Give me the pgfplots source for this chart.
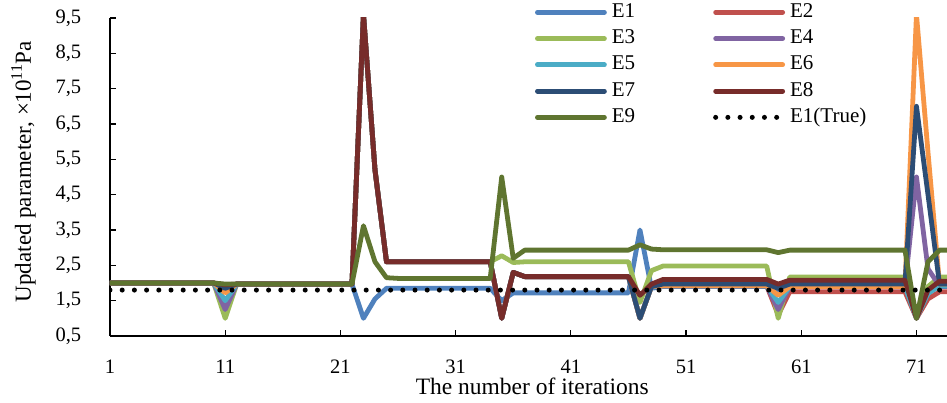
\documentclass[border=0pt]{standalone}
\usepackage{fontspec}
\setmainfont{Liberation Serif}
\usepackage{pgfplots}
\pgfplotsset{compat=1.18}
\definecolor{c1}{HTML}{4F81BD}
\definecolor{c2}{HTML}{C0504D}
\definecolor{c3}{HTML}{9BBB59}
\definecolor{c4}{HTML}{8064A2}
\definecolor{c5}{HTML}{4BACC6}
\definecolor{c6}{HTML}{F79646}
\definecolor{c7}{HTML}{2C4D75}
\definecolor{c8}{HTML}{772C2A}
\definecolor{c9}{HTML}{5F7530}
\begin{document}
\fontsize{20}{24}\selectfont
\begin{tikzpicture}
\begin{axis}[
  at={(0,0)}, anchor=south west,
  scale only axis, width=837pt, height=318pt,
  xmin=1, xmax=73.65, ymin=0.5, ymax=9.5,
  axis lines*=left,
  axis line style={line width=1.3pt},
  tick align=inside,
  major tick length=6pt,
  tick style={line width=1.3pt, black},
  xtick={1,11,...,71},
  ytick={0.5,1.5,...,9.5},
  /pgf/number format/assume math mode=true,
  y tick label style={/pgf/number format/use comma, /pgf/number format/fixed, /pgf/number format/fixed zerofill, /pgf/number format/precision=1, xshift=-22pt, font=\fontsize{20.5}{24}\selectfont},
  x tick label style={yshift=-17pt, font=\fontsize{20.5}{24}\selectfont},
  xlabel={The number of iterations},
  ylabel={Updated parameter, ×10\textsuperscript{11}Pa},
  xlabel style={at={(axis description cs:0.5045,-0.1855)}, anchor=base, font=\fontsize{23.5}{28}\selectfont},
  ylabel style={at={(axis description cs:-0.0944,0.517)}, anchor=base, font=\fontsize{23}{28}\selectfont},
  legend columns=2,
  legend cell align=left,
  legend image code/.code={\draw[#1] (2.5pt,0pt) -- (69.5pt,0pt);},
  legend style={at={(axis description cs:0.5078,1.046)}, anchor=north west,
    draw=none, fill=none, inner sep=0pt, outer sep=0pt,
    font=\fontsize{21}{24}\selectfont,
    nodes={inner sep=0pt, text height=14pt, text depth=4pt},
    row sep=8.25pt,
    /tikz/every odd column/.append style={column sep=5pt},
    /tikz/every even column/.append style={column sep=78pt}},
  every axis plot/.append style={line width=4.8pt, line join=round, line cap=round},
]
\addplot[c1] coordinates {(1,2.0)(10,2.0)(11,1.9)(12,1.97)(22,1.97)(23,1.0)(24,1.55)(25,1.85)(34,1.85)(35,1.5)(36,1.72)(46,1.72)(47,3.5)(48,1.85)(49,1.9)(58,1.9)(59,1.75)(60,1.9)(70,1.9)(71,1.2)(72,1.8)(73,1.9)(74,1.9)};
\addlegendentry{E1}
\addplot[c2] coordinates {(1,2.0)(10,2.0)(11,1.9)(12,1.97)(22,1.97)(23,9.6)(24,5.2)(25,2.6)(34,2.6)(35,1.0)(36,2.3)(37,2.18)(46,2.18)(47,1.0)(48,1.9)(49,1.92)(58,1.92)(59,1.1)(60,1.75)(70,1.75)(71,1.0)(72,1.55)(73,1.75)(74,1.75)};
\addlegendentry{E2}
\addplot[c3] coordinates {(1,2.0)(10,2.0)(11,1.0)(12,1.97)(22,1.97)(23,9.6)(24,5.2)(25,2.6)(34,2.6)(35,2.77)(36,2.58)(37,2.6)(46,2.6)(47,1.45)(48,2.35)(49,2.48)(58,2.48)(59,1.0)(60,2.17)(70,2.17)(71,1.0)(72,1.9)(73,2.17)(74,2.17)};
\addlegendentry{E3}
\addplot[c4] coordinates {(1,2.0)(10,2.0)(11,1.25)(12,1.97)(22,1.97)(23,9.6)(24,5.2)(25,2.6)(34,2.6)(35,1.0)(36,2.3)(37,2.18)(46,2.18)(47,1.0)(48,1.9)(49,1.92)(58,1.92)(59,1.25)(60,1.9)(70,1.9)(71,5.0)(72,2.4)(73,1.92)(74,1.92)};
\addlegendentry{E4}
\addplot[c5] coordinates {(1,2.0)(10,2.0)(11,1.5)(12,1.97)(22,1.97)(23,9.6)(24,5.2)(25,2.6)(34,2.6)(35,1.0)(36,2.3)(37,2.18)(46,2.18)(47,1.0)(48,1.9)(49,1.92)(58,1.92)(59,1.45)(60,1.9)(70,1.9)(71,1.0)(72,1.7)(73,1.92)(74,1.92)};
\addlegendentry{E5}
\addplot[c6] coordinates {(1,2.0)(10,2.0)(11,1.72)(12,1.97)(22,1.97)(23,9.6)(24,5.2)(25,2.6)(34,2.6)(35,1.0)(36,2.3)(37,2.18)(46,2.18)(47,1.0)(48,1.9)(49,1.92)(58,1.92)(59,1.65)(60,1.9)(70,1.9)(71,9.6)(72,5.7)(73,1.97)(74,1.97)};
\addlegendentry{E6}
\addplot[c7] coordinates {(1,2.0)(10,2.0)(11,1.85)(12,1.97)(22,1.97)(23,9.6)(24,5.2)(25,2.6)(34,2.6)(35,1.0)(36,2.3)(37,2.18)(46,2.18)(47,1.0)(48,1.9)(49,1.97)(58,1.97)(59,1.85)(60,1.97)(70,1.97)(71,7.0)(72,4.5)(73,1.97)(74,1.97)};
\addlegendentry{E7}
\addplot[c8] coordinates {(1,2.0)(10,2.0)(11,1.95)(12,1.97)(22,1.97)(23,9.6)(24,5.2)(25,2.6)(34,2.6)(35,1.0)(36,2.3)(37,2.18)(46,2.18)(47,1.65)(48,1.97)(49,2.1)(58,2.1)(59,1.97)(60,2.08)(70,2.08)(71,1.0)(72,1.8)(73,2.05)(74,2.05)};
\addlegendentry{E8}
\addplot[c9] coordinates {(1,2.0)(10,2.0)(11,1.97)(22,1.97)(23,3.62)(24,2.6)(25,2.15)(26,2.13)(34,2.13)(35,5.0)(36,2.7)(37,2.93)(46,2.93)(47,3.08)(48,2.96)(49,2.94)(58,2.94)(59,2.86)(60,2.93)(70,2.93)(71,1.0)(72,2.6)(73,2.93)(74,2.93)};
\addlegendentry{E9}
\addplot[black, line width=5pt, line cap=round, dash pattern=on 0pt off 12.2pt] coordinates {(1,1.8)(74,1.8)};
\addlegendentry{E1(True)}
\end{axis}
\pgfresetboundingbox
\path[use as bounding box] (-110pt,-67pt) rectangle (837pt,336pt);
\end{tikzpicture}
\end{document}
